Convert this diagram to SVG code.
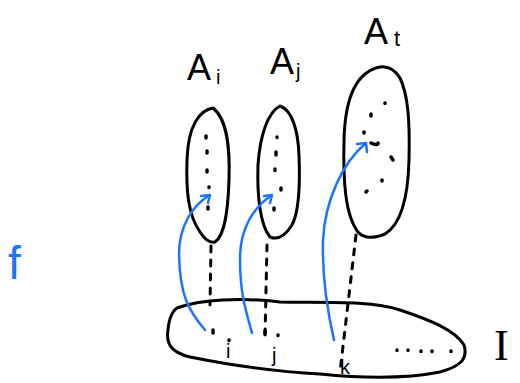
<svg xmlns="http://www.w3.org/2000/svg" width="520" height="383" viewBox="0 0 520 383">
<style>
.o{fill:none;stroke:#000;stroke-width:3;stroke-linecap:round;stroke-linejoin:round}
.d{fill:none;stroke:#000;stroke-width:3;stroke-linecap:round;stroke-dasharray:6 8}
.p{fill:none;stroke:#000;stroke-width:3.5;stroke-linecap:round}
.b{fill:none;stroke:#1a75ff;stroke-width:2.5;stroke-linecap:round;stroke-linejoin:round}
.t{font-family:"Liberation Sans",Arial,sans-serif;fill:#000}
</style>
<rect width="520" height="383" fill="#fff"/>
<g id="Ai">
<path class="o" d="M213,108 C200,110 188,125 187,160 C186,190 188,215 200,232 C205,240 210,243 215,242 C225,235 228,210 229,180 C230,150 228,120 213,108 Z"/>
<path class="p" d="M206,136v2 M207,151v2 M207,170v2 M209,187v0.5 M208,207v2"/>
<text class="t" x="187" y="80" font-size="36">A</text><text class="t" x="216" y="84" font-size="20">i</text>
</g>
<g id="Aj">
<path class="o" d="M280,106 C268,112 260,135 258,165 C257,195 260,225 270,237 C277,240 285,236 292,225 C300,210 300,180 299,155 C298,130 292,110 280,106 Z"/>
<path class="p" d="M277,137v0.5 M276,152v3 M275,169v1.5 M281,188v2 M274,208v2"/>
<text class="t" x="270" y="74" font-size="36">A</text><text class="t" x="296" y="78" font-size="20">j</text>
</g>
<g id="At">
<path class="o" d="M380,67 C355,72 345,100 344,140 C343,180 345,215 358,232 C365,240 375,238 385,234 C400,225 408,200 409,160 C410,120 408,95 400,78 C395,70 388,66 380,67 Z"/>
<path class="p" d="M385,103v0.5 M371,114v2 M364,132v1 M371,143 C375,145 378,145 378,143 M391,157 l2,3 M382,180v1 M367,191l-1,1"/>
<text class="t" x="364" y="44" font-size="36">A</text><text class="t" x="394" y="46" font-size="22">t</text>
</g>
<g id="I">
<path class="o" d="M180,307 C200,300 240,297 280,302 C320,303 370,300 400,310 C430,320 455,330 464,345 C468,358 462,366 440,372 C400,380 350,377 320,374 C280,372 230,365 190,357 C170,352 166,343 168,330 C169,318 173,308 180,307 Z"/>
<path class="p" d="M213,330v3 M229,340v0.5 M265,331v3 M278,335v0.5 M397,350v0.5 M408,350v0.5 M421,351v0.5 M432,351v0.5 M451,351v0.5"/>
<text class="t" x="226" y="358" font-size="20">i</text>
<text class="t" x="272" y="362" font-size="20">j</text>
<text class="t" x="340" y="374" font-size="20">k</text>
<text x="494" y="360" font-size="44" style="font-family:'Liberation Serif',serif">I</text>
</g>
<g id="f">
<text x="8" y="279" font-size="46" fill="#1a75ff" style="font-family:'Liberation Sans',sans-serif">f</text>
</g>
<g id="connectors">
<path class="d" d="M211,246 L210,305"/>
<path class="d" d="M267,245 L265,338"/>
<path class="d" d="M356,235 L340,372"/>
<path class="b" d="M205,330 C188,310 180,295 179,255 C179,225 193,205 210,195"/>
<path class="b" d="M201,196 L210,195 L208,203"/>
<path class="b" d="M252,333 C244,305 240,290 240,258 C240,228 254,207 272,195"/>
<path class="b" d="M264,196 L272,195 L270,203"/>
<path class="b" d="M334,340 C326,305 322,275 323,240 C325,200 343,162 366,143"/>
<path class="b" d="M357,144 L366,143 L367,152"/>
</g>
</svg>
